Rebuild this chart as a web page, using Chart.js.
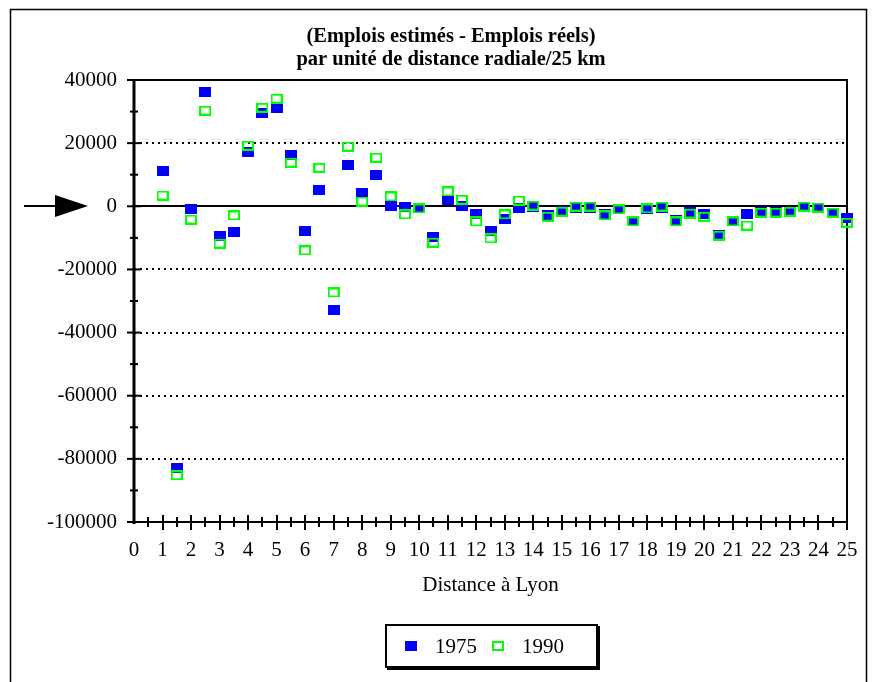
<!DOCTYPE html>
<html>
<head>
<meta charset="utf-8">
<script src="https://cdn.jsdelivr.net/npm/chart.js@4"></script>
<style>
  html, body { margin: 0; padding: 0; background: #fff; }
  #wrap { position: relative; width: 880px; height: 682px; }
  #legend {
    position: absolute; left: 385px; top: 624px; width: 209px; height: 40px;
    border: 2px solid #000; box-shadow: 2px 2px 0 #000; background: #fff;
    font: 21px 'Liberation Serif', 'Times New Roman', serif; color: #000;
    display: flex; align-items: center; box-sizing: content-box;
  }
  #legend .item { display: flex; align-items: center; margin-left: 18px; }
  #legend .item + .item { margin-left: 15px; }
  #legend .mark { width: 12px; height: 10px; box-sizing: border-box; margin-right: 18px; }
</style>
</head>
<body>
<div id="wrap">
  <canvas id="chart" width="880" height="682"></canvas>
  <div id="legend"></div>
</div>
<script>
// (Emplois estimés - Emplois réels) par unité de distance radiale
const titleLines = ['(Emplois estimés - Emplois réels)', 'par unité de distance radiale/25 km'];
const xTitle = 'Distance à Lyon';

const distance = [1, 1.5, 2, 2.5, 3, 3.5, 4, 4.5, 5, 5.5, 6, 6.5, 7, 7.5, 8, 8.5, 9, 9.5, 10, 10.5,
  11, 11.5, 12, 12.5, 13, 13.5, 14, 14.5, 15, 15.5, 16, 16.5, 17, 17.5, 18, 18.5, 19, 19.5, 20, 20.5,
  21, 21.5, 22, 22.5, 23, 23.5, 24, 24.5, 25];

const emplois1975 = [11300, -83000, -1000, 36300, -9300, -8000, 17300, 29700, 31000, 16400,
  -7700, 5300, -33000, 13200, 4300, 10000, 200, -100, -400, -9600,
  2100, 200, -2300, -7700, -3900, -400, -100, -2900, -1400, -400,
  -400, -2300, -1000, -4800, -1000, -400, -4500, -1700, -2600, -9000,
  -4800, -2600, -1700, -1700, -1700, -100, -400, -2000, -3600];

const emplois1990 = [3400, -85200, -4200, 30300, -11800, -2900, 19200, 31200, 34100, 13800,
  -14000, 12200, -27300, 18900, 1500, 15400, 3100, -2600, -700, -11500,
  4700, 2100, -4800, -10200, -2600, 1800, 200, -3300, -1700, -100,
  -100, -2900, -1000, -4800, -700, -100, -4800, -2300, -3300, -9300,
  -4800, -6100, -2000, -2000, -1700, -100, -400, -2000, -5200];

const seriesNames = ['1975', '1990'];
const seriesColors = ['#0000ff', '#00ff00'];

const yTicks = [40000, 20000, 0, -20000, -40000, -60000, -80000, -100000];
const xTicks = [0, 1, 2, 3, 4, 5, 6, 7, 8, 9, 10, 11, 12, 13, 14, 15, 16, 17, 18, 19, 20, 21, 22, 23, 24, 25];

const FONT = "'Liberation Serif', 'Times New Roman', serif";
Chart.defaults.font.family = FONT;
Chart.defaults.color = '#000';

// small rectangle markers, a bit wider than tall like the original
function makeMarker(color, filled) {
  const c = document.createElement('canvas');
  c.width = 12; c.height = 10;
  const g = c.getContext('2d');
  if (filled) {
    g.fillStyle = color;
    g.fillRect(0, 0, 12, 10);
  } else {
    g.strokeStyle = color;
    g.lineWidth = 2;
    g.strokeRect(1, 1, 10, 8);
  }
  return c;
}

// axes, ticks, dotted grid, arrow, outer frame and title
const decor = {
  id: 'decor',
  beforeDatasetsDraw(chart) {
    const { ctx, chartArea: a, scales: { x, y } } = chart;
    ctx.save();
    ctx.strokeStyle = '#000';

    // outer frame
    ctx.lineWidth = 1.5;
    ctx.strokeRect(10.5, 9.5, 856, 700);

    // title, centred a little left of the plot like the original
    ctx.fillStyle = '#000';
    ctx.font = `bold 20.5px ${FONT}`;
    ctx.textAlign = 'center';
    ctx.textBaseline = 'middle';
    titleLines.forEach((t, i) => ctx.fillText(t, 451, 37 + i * 23));

    // dotted grid lines
    ctx.lineWidth = 2;
    ctx.setLineDash([2, 4]);
    yTicks.forEach(v => {
      if (v === 0 || v === yTicks[0] || v === yTicks[yTicks.length - 1]) return;
      const py = Math.round(y.getPixelForValue(v));
      ctx.beginPath(); ctx.moveTo(a.left, py); ctx.lineTo(a.right, py); ctx.stroke();
    });
    ctx.setLineDash([]);

    // zero line, top and right frame
    const y0 = Math.round(y.getPixelForValue(0));
    ctx.lineWidth = 2;
    ctx.beginPath(); ctx.moveTo(a.left, y0); ctx.lineTo(a.right, y0); ctx.stroke();
    ctx.beginPath(); ctx.moveTo(a.left - 7, a.top); ctx.lineTo(a.right, a.top); ctx.lineTo(a.right, a.bottom); ctx.stroke();
    // bottom axis
    ctx.beginPath(); ctx.moveTo(a.left - 7, a.bottom); ctx.lineTo(a.right, a.bottom); ctx.stroke();
    // left axis
    ctx.lineWidth = 3;
    ctx.beginPath(); ctx.moveTo(a.left, a.top); ctx.lineTo(a.left, a.bottom + 2); ctx.stroke();

    // y ticks: long every 20000, short in between
    ctx.lineWidth = 2;
    for (let i = 0; i < yTicks.length; i++) {
      const py = y.getPixelForValue(yTicks[i]);
      ctx.beginPath(); ctx.moveTo(a.left - 7, py); ctx.lineTo(a.left + 7, py); ctx.stroke();
      if (i < yTicks.length - 1) {
        const pm = y.getPixelForValue((yTicks[i] + yTicks[i + 1]) / 2);
        ctx.beginPath(); ctx.moveTo(a.left - 4, pm); ctx.lineTo(a.left + 4, pm); ctx.stroke();
      }
    }
    // x ticks: long at integers, short at halves
    for (let i = 0; i < xTicks.length; i++) {
      const px = Math.round(x.getPixelForValue(xTicks[i]));
      if (i > 0) {
        ctx.beginPath(); ctx.moveTo(px, a.bottom - 7); ctx.lineTo(px, a.bottom + 8); ctx.stroke();
      }
      if (i < xTicks.length - 1) {
        const ph = Math.round(x.getPixelForValue((xTicks[i] + xTicks[i + 1]) / 2));
        ctx.beginPath(); ctx.moveTo(ph, a.bottom - 5); ctx.lineTo(ph, a.bottom + 5); ctx.stroke();
      }
    }

    // arrow pointing at zero
    ctx.lineWidth = 2;
    ctx.beginPath(); ctx.moveTo(24, y0); ctx.lineTo(58, y0); ctx.stroke();
    ctx.beginPath(); ctx.moveTo(55, y0 - 11); ctx.lineTo(88, y0); ctx.lineTo(55, y0 + 11); ctx.closePath(); ctx.fill();
    ctx.restore();
  }
};

const chart = new Chart(document.getElementById('chart'), {
  type: 'scatter',
  data: {
    datasets: [
      {
        label: seriesNames[0],
        data: distance.map((d, i) => ({ x: d, y: emplois1975[i] })),
        pointStyle: makeMarker(seriesColors[0], true),
        order: 2,
        clip: false
      },
      {
        label: seriesNames[1],
        data: distance.map((d, i) => ({ x: d, y: emplois1990[i] })),
        pointStyle: makeMarker(seriesColors[1], false),
        order: 1,
        clip: false
      }
    ]
  },
  options: {
    responsive: false,
    animation: false,
    devicePixelRatio: 1,
    layout: { padding: { left: 0, right: 33, top: 80, bottom: 84 } },
    plugins: {
      legend: { display: false },
      tooltip: { enabled: false },
      title: { display: false }
    },
    scales: {
      x: {
        type: 'linear',
        min: 0, max: 25,
        afterBuildTicks: scale => { scale.ticks = xTicks.map(v => ({ value: v })); },
        afterFit: scale => { scale.height = 76; },
        ticks: { autoSkip: false, maxRotation: 0, padding: 16, font: { size: 21 }, color: '#000',
          callback: v => String(v) },
        grid: { display: false, drawTicks: false },
        border: { display: false },
        title: { display: true, text: xTitle, font: { size: 21 }, color: '#000', padding: 0 }
      },
      y: {
        min: -100000, max: 40000,
        afterBuildTicks: scale => { scale.ticks = yTicks.map(v => ({ value: v })); },
        afterFit: scale => { scale.width = 134; },
        ticks: { padding: 17, font: { size: 21 }, color: '#000', callback: v => String(v) },
        grid: { display: false, drawTicks: false },
        border: { display: false }
      }
    }
  },
  plugins: [decor]
});

// legend
const legend = document.getElementById('legend');
legend.innerHTML = seriesNames.map((name, i) => {
  const fill = i === 0 ? `background:${seriesColors[i]};` : `border:2px solid ${seriesColors[i]};`;
  return `<div class="item"><span class="mark" style="${fill}"></span><span>${name}</span></div>`;
}).join('');
</script>
</body>
</html>
